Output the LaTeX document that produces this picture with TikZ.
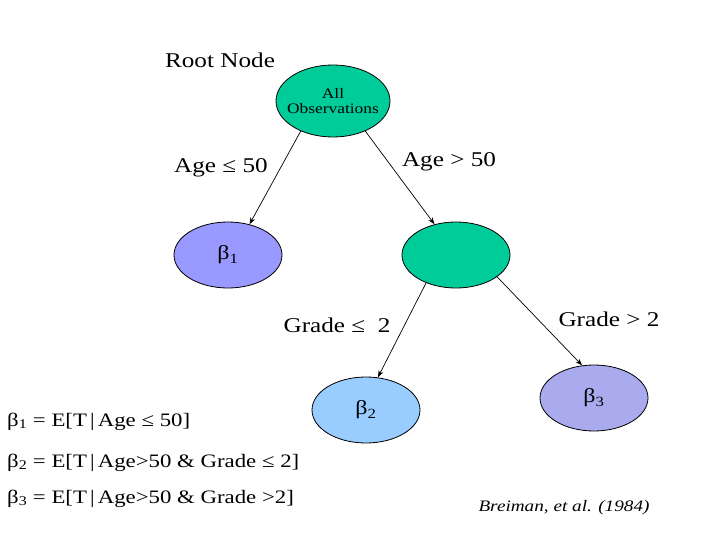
\documentclass[tikz,border=0pt]{standalone}
\usepackage{fontspec}
\setmainfont{Liberation Serif}[FakeStretch=1.2]
\usetikzlibrary{shapes.geometric,arrows.meta}
\definecolor{greenfill}{HTML}{00CC99}
\definecolor{bonefill}{HTML}{9999FF}
\definecolor{btwofill}{HTML}{99CCFF}
\definecolor{bthreefill}{HTML}{AAAAEE}
\begin{document}
\begin{tikzpicture}[x=1pt,y=-1pt,
  oval/.style={ellipse,draw=black,line width=0.8pt,minimum width=108pt,minimum height=66pt,inner sep=0pt},
  conn/.style={draw=black,line width=0.7pt,-{Stealth[length=7pt,width=5pt]}},
  lbl/.style={font=\fontsize{21}{24}\selectfont,inner sep=0pt},
  formula/.style={font=\fontsize{19}{22}\selectfont,anchor=base west,inner sep=0pt}]
\useasboundingbox (0,0) rectangle (720,540);
\node[oval,fill=greenfill,minimum width=114pt,minimum height=72pt,
  label={[align=center,inner sep=0pt,font=\fontsize{14.5}{16}\selectfont]center:All\\[-1pt]Observations}] (root) at (333,101) {};
\node[oval,fill=bonefill,font=\fontsize{20}{22}\selectfont] (b1) at (228,255) {β\textsubscript{1}};
\node[oval,fill=greenfill] (mid) at (456,255) {};
\node[oval,fill=btwofill,font=\fontsize{20}{22}\selectfont] (b2) at (366,410) {β\textsubscript{2}};
\node[oval,fill=bthreefill,font=\fontsize{20}{22}\selectfont] (b3) at (594,398) {β\textsubscript{3}};
\draw[conn] (root.223) -- (b1.55);
\draw[conn] (root.317) -- (mid.125);
\draw[conn] (mid.223) -- (b2.70);
\draw[conn] (mid.332) -- (b3.110);
\node[lbl] (rootlbl) at (220,60) {Root Node};
\node[lbl] (agele) at (221,168) {Age ≤ 50};
\node[lbl] (agegt) at (449,162) {Age > 50};
\node[lbl] (gradele) at (337,325) {Grade ≤~ 2};
\node[lbl] (gradegt) at (609,319) {Grade > 2};
\node[formula] (f1) at (7,426) {β\textsubscript{1} = E[T\,|\,Age ≤ 50]};
\node[formula] (f2) at (7,467) {β\textsubscript{2} = E[T\,|\,Age>50 \& Grade ≤ 2]};
\node[formula] (f3) at (7,503) {β\textsubscript{3} = E[T\,|\,Age>50 \& Grade >2]};
\node[font=\fontsize{16}{18}\selectfont\itshape,inner sep=0pt] (cite) at (564,508) {Breiman, et al. (1984)};
\end{tikzpicture}
\end{document}
